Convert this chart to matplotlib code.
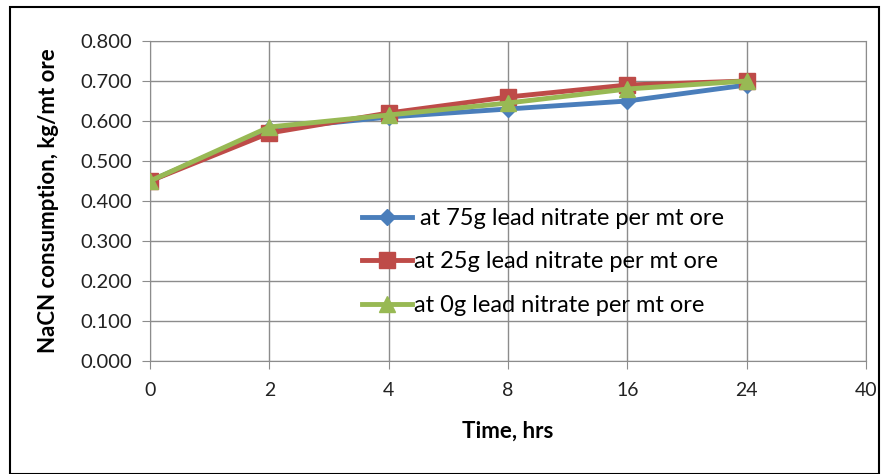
import matplotlib
matplotlib.use("Agg")
import matplotlib.pyplot as plt
from matplotlib.patches import Rectangle

categories = ["0", "2", "4", "8", "16", "24", "40"]
series_75g = [0.45, 0.58, 0.61, 0.63, 0.65, 0.69]
series_25g = [0.45, 0.57, 0.62, 0.66, 0.69, 0.70]
series_0g = [0.45, 0.585, 0.615, 0.645, 0.68, 0.70]
labels = [" at 75g lead nitrate per mt ore",
          "at 25g lead nitrate per mt ore",
          "at 0g lead nitrate per mt ore"]
yticks = [0.0, 0.1, 0.2, 0.3, 0.4, 0.5, 0.6, 0.7, 0.8]

plt.rcParams['font.family'] = ['Lato', 'DejaVu Sans']

fig = plt.figure(figsize=(8.83, 4.74), dpi=100)
ax = fig.add_axes([150/883, 1-361/474, (866-150)/883, (361-41)/474])

fig.patches.append(Rectangle((10/883, 0.5/474), (879-10)/883, (467-0.5)/474, transform=fig.transFigure,
                             fill=False, edgecolor='black', linewidth=1.5))

x = list(range(len(series_75g)))
ax.plot(x, series_75g, color='#4A7EBB', lw=3.5, marker='D', ms=8, label=labels[0], zorder=3)
ax.plot(x, series_25g, color='#BE4B48', lw=3.5, marker='s', ms=11, label=labels[1], zorder=4)
ax.plot(x, series_0g, color='#98B954', lw=3.5, marker='^', ms=12, label=labels[2], zorder=5)

ax.set_xlim(0, len(categories) - 1)
ax.set_xticks(range(len(categories)))
ax.set_xticklabels(categories)
ax.set_ylim(0, 0.8)
ax.set_yticks(yticks)
ax.set_yticklabels([f"{v:.3f}" for v in yticks])
ax.grid(True, color='#8c8c8c', lw=1)
ax.set_axisbelow(True)
for s in ax.spines.values():
    s.set_color('#8c8c8c')
ax.tick_params(axis='both', colors='#8c8c8c', labelcolor='#222222', length=6)
ax.tick_params(axis='y', labelsize=14.5, pad=7)
ax.tick_params(axis='x', labelsize=14, pad=9)

ax.set_xlabel("Time, hrs", fontsize=16, fontweight='bold', labelpad=16)
ax.set_ylabel("NaCN consumption, kg/mt ore", fontsize=16, fontweight='bold', labelpad=15)

leg = ax.legend(loc='center left', bbox_to_anchor=((362-150)/716, (361-262)/320), frameon=False,
                fontsize=17, handlelength=2.1, labelspacing=0.95, handletextpad=0.1,
                borderpad=0, borderaxespad=0)

fig.savefig("out.png", dpi=100)
